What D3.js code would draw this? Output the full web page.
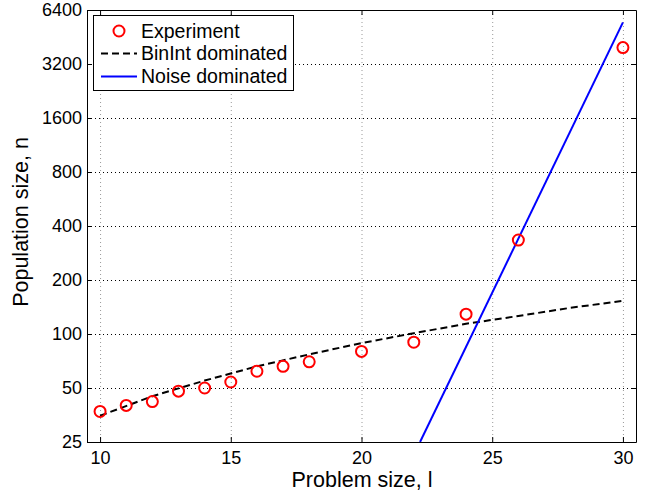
<!DOCTYPE html>
<html lang="en">
    <head>
        <meta charset="utf-8">
        <title>Population size</title>
        <script src="https://d3js.org/d3.v7.min.js"></script>
        <style type="text/css">
            body { margin: 0; background: #fff; }

            .axis path,
            .axis line {
                stroke: #000;
            }

            .axis text {
                font-family: "Liberation Sans", Arial, sans-serif;
                font-size: 18px;
                fill: #000;
            }

            .label {
                font-family: "Liberation Sans", Arial, sans-serif;
                font-size: 21.5px;
                fill: #000;
            }

            .name {
                font-family: "Liberation Sans", Arial, sans-serif;
                font-size: 19.5px;
                fill: #000;
            }

            .hgrid { stroke: #000; stroke-width: 1px; stroke-dasharray: 1,3; }
            .vgrid { stroke: #999; stroke-width: 1px; stroke-dasharray: 1,3; }

            .binint { fill: none; stroke: #000; stroke-width: 2px; stroke-dasharray: 7,4; }
            .noise  { fill: none; stroke: #0000ff; stroke-width: 2px; }
            .exp    { fill: none; stroke: #ff0000; stroke-width: 2px; }
        </style>
    </head>
    <body>
        <script type="text/javascript">

            const w = 651;
            const h = 495;
            const pLeft = 87, pRight = 636, pTop = 10, pBottom = 442;

            // data
            const expX = [10, 11, 12, 13, 14, 15, 16, 17, 18, 20, 22, 24, 26, 30];
            const expN = [37, 40, 42, 48, 50, 54, 62, 66, 70, 80, 90, 129, 334, 3950];

            const binX = [10, 12, 14, 16, 18, 20, 22, 24, 26, 28, 30];
            const binN = [35, 45, 55, 66, 77, 89, 101, 114, 126, 140, 153];

            const noiseX = [22.24, 30];
            const noiseN = [25, 5460];

            const xTicks = [10, 15, 20, 25, 30];
            const yTicks = [25, 50, 100, 200, 400, 800, 1600, 3200, 6400];

            const legendNames = ["Experiment", "BinInt dominated", "Noise dominated"];

            const xScale = d3.scaleLinear()
                             .domain([9.5, 30.5])
                             .range([pLeft, pRight]);

            const yScale = d3.scaleLog()
                             .base(2)
                             .domain([25, 6400])
                             .range([pBottom, pTop]);

            const svg = d3.select("body")
                    .append("svg")
                    .attr("width", w)
                    .attr("height", h);

            svg.append("defs").append("clipPath")
               .attr("id", "plot")
               .append("rect")
               .attr("x", pLeft).attr("y", pTop)
               .attr("width", pRight - pLeft).attr("height", pBottom - pTop);

            //grid
            svg.append("g").selectAll("line")
               .data(xTicks)
               .join("line")
               .attr("class", "vgrid")
               .attr("x1", d => xScale(d) + 0.5).attr("x2", d => xScale(d) + 0.5)
               .attr("y1", pTop).attr("y2", pBottom);

            svg.append("g").selectAll("line")
               .data(yTicks)
               .join("line")
               .attr("class", "hgrid")
               .attr("x1", pLeft).attr("x2", pRight)
               .attr("y1", d => Math.round(yScale(d)) + 0.5)
               .attr("y2", d => Math.round(yScale(d)) + 0.5);

            //axes, ticks pointing inward like matlab
            svg.append("g")
               .attr("class", "axis")
               .attr("transform", "translate(0," + pBottom + ")")
               .call(d3.axisBottom(xScale).tickValues(xTicks).tickSizeInner(-5).tickSizeOuter(0).tickPadding(9));

            svg.append("g")
               .attr("class", "axis")
               .attr("transform", "translate(0," + pTop + ")")
               .call(d3.axisTop(xScale).tickValues(xTicks).tickSizeInner(-5).tickSizeOuter(0).tickFormat(""));

            svg.append("g")
               .attr("class", "axis")
               .attr("transform", "translate(" + pLeft + ",0)")
               .call(d3.axisLeft(yScale).tickValues(yTicks).tickFormat(d3.format("d")).tickSizeInner(-5).tickSizeOuter(0).tickPadding(5));

            svg.append("g")
               .attr("class", "axis")
               .attr("transform", "translate(" + pRight + ",0)")
               .call(d3.axisRight(yScale).tickValues(yTicks).tickSizeInner(-5).tickSizeOuter(0).tickFormat(""));

            //lines
            const plot = svg.append("g").attr("clip-path", "url(#plot)");

            const binLine = d3.line()
                              .x((d, i) => xScale(binX[i]))
                              .y(d => yScale(d));

            const noiseLine = d3.line()
                                .x((d, i) => xScale(noiseX[i]))
                                .y(d => yScale(d));

            plot.append("path")
                .datum(binN)
                .attr("class", "binint")
                .attr("d", binLine);

            plot.append("path")
                .datum(noiseN)
                .attr("class", "noise")
                .attr("d", noiseLine);

            svg.append("g").selectAll("circle")
               .data(expN)
               .join("circle")
               .attr("class", "exp")
               .attr("cx", (d, i) => xScale(expX[i]))
               .attr("cy", d => yScale(d))
               .attr("r", 5.5);

            //axis labels
            svg.append("text")
               .attr("class", "label")
               .attr("x", 362)
               .attr("y", 487)
               .attr("text-anchor", "middle")
               .text("Problem size, l");

            svg.append("text")
               .attr("class", "label")
               .attr("transform", "translate(28,222) rotate(-90)")
               .attr("text-anchor", "middle")
               .text("Population size, n");

            //legend
            const legend = svg.append("g").attr("transform", "translate(93,15)");

            legend.append("rect")
                  .attr("x", 0.5).attr("y", 0.5)
                  .attr("width", 200).attr("height", 75)
                  .attr("fill", "#fff")
                  .attr("stroke", "#000");

            const rowY = [16, 38.5, 61.5];

            legend.append("circle")
                  .attr("class", "exp")
                  .attr("cx", 26).attr("cy", rowY[0]).attr("r", 5.5);

            legend.append("line")
                  .attr("class", "binint")
                  .attr("x1", 8).attr("x2", 44)
                  .attr("y1", rowY[1]).attr("y2", rowY[1]);

            legend.append("line")
                  .attr("class", "noise")
                  .attr("x1", 8).attr("x2", 44)
                  .attr("y1", rowY[2]).attr("y2", rowY[2]);

            legend.selectAll("text.name")
                  .data(legendNames)
                  .join("text")
                  .attr("class", "name")
                  .attr("x", 48)
                  .attr("y", (d, i) => rowY[i])
                  .attr("dy", "0.35em")
                  .text(d => d);

        </script>
    </body>
</html>
